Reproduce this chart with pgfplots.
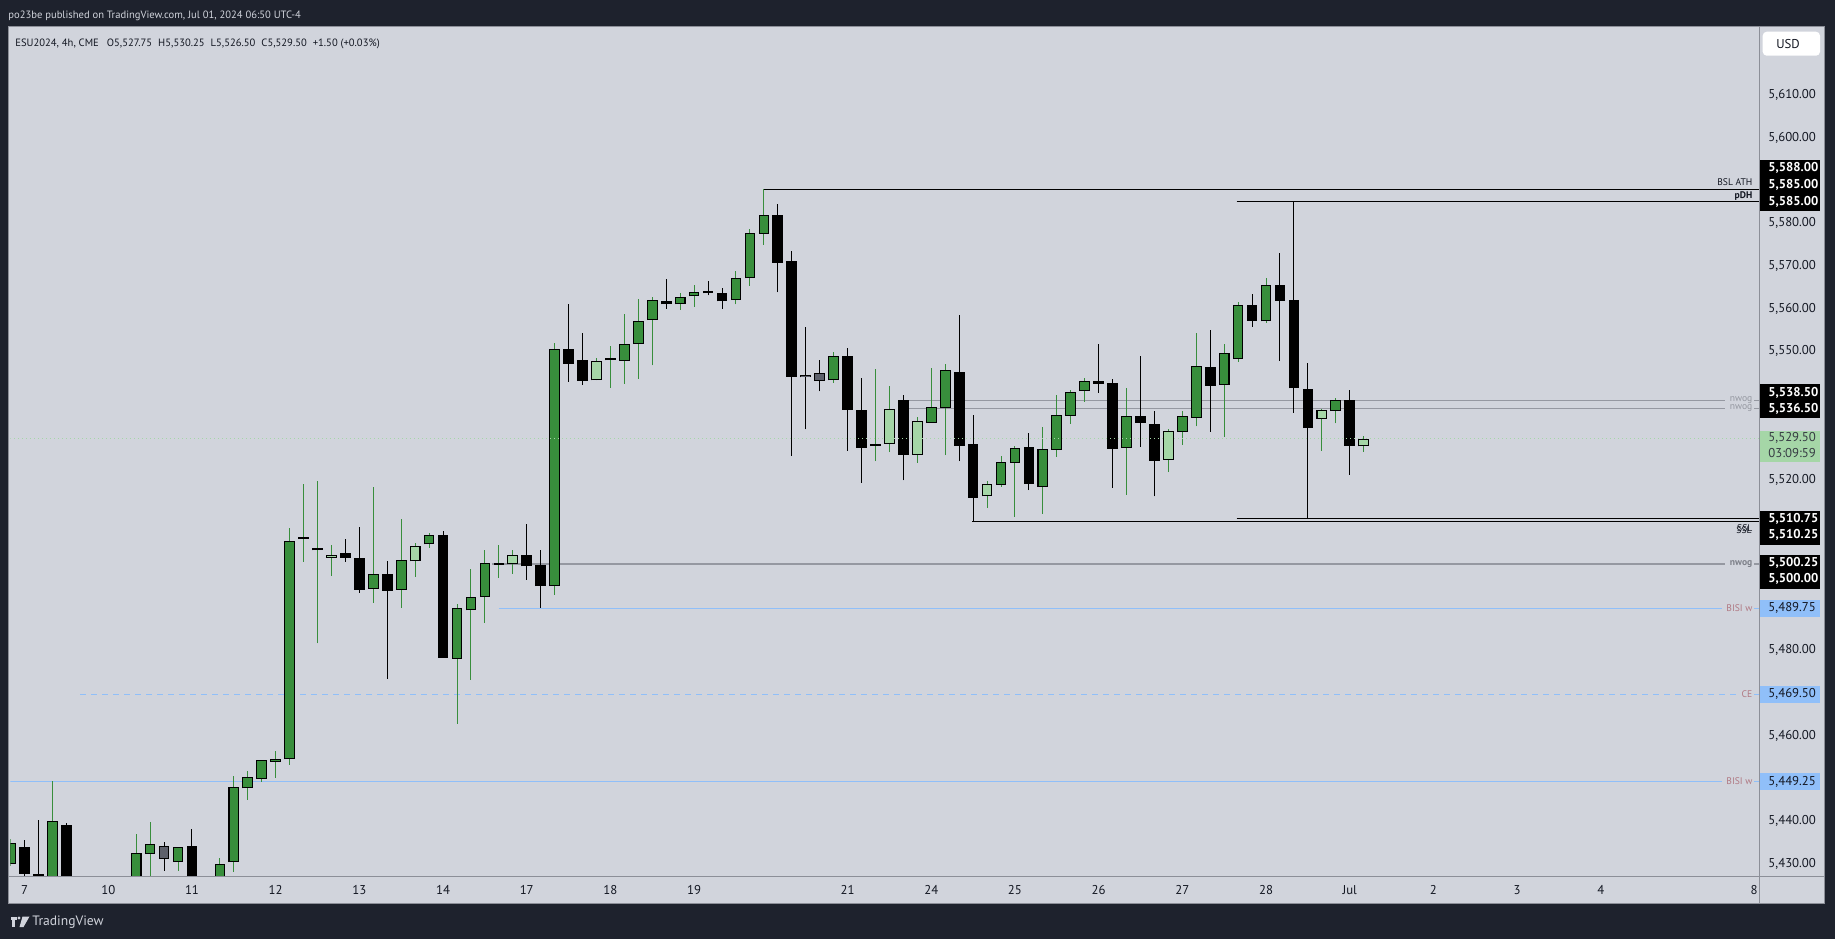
\documentclass[border=0pt]{standalone}
\usepackage{fontspec}
\setmainfont{PT Sans}
\usepackage{pgfplots}
\usepackage{pgfplotstable}
\pgfplotsset{compat=1.18}

\definecolor{bgdark}{HTML}{1E222D}
\definecolor{panel}{HTML}{D1D4DC}
\definecolor{sepc}{HTML}{8C8F98}
\definecolor{ink}{HTML}{131722}
\definecolor{upc}{HTML}{388E3C}
\definecolor{uplt}{HTML}{A5D6A7}
\definecolor{dngray}{HTML}{5D606B}
\definecolor{lvlblue}{HTML}{90BFF9}
\definecolor{lvlgray}{HTML}{9598A1}
\definecolor{nwogdark}{HTML}{7E818A}
\definecolor{rose}{HTML}{B07882}

% 4h candles, x = bar index, columns: open high low close
\pgfplotstableread{
n o h l c
0 5430.0 5435.7 5429.5 5434.7
3 5424.0 5449.3 5423.0 5439.9
9 5424.0 5436.9 5423.0 5432.4
10 5432.2 5439.7 5426.0 5434.5
12 5430.3 5433.8 5428.3 5433.8
15 5425.0 5431.4 5424.0 5430.0
16 5430.3 5450.5 5428.1 5447.9
17 5447.6 5451.7 5444.9 5450.2
18 5449.9 5454.2 5449.2 5454.2
19 5453.9 5456.4 5450.1 5454.4
20 5454.4 5508.6 5453.2 5505.5
26 5494.4 5518.2 5491.1 5497.8
28 5494.2 5510.7 5489.9 5501.0
30 5504.8 5507.5 5504.0 5506.9
32 5478.0 5490.8 5462.8 5489.8
33 5489.3 5499.0 5473.1 5492.4
34 5492.4 5503.5 5486.4 5500.3
39 5495.0 5552.0 5493.0 5550.5
44 5547.8 5558.8 5542.4 5551.7
45 5551.7 5562.3 5543.6 5557.1
46 5557.3 5562.8 5546.7 5562.0
48 5561.0 5563.7 5559.8 5562.7
49 5562.9 5565.6 5560.5 5563.8
52 5562.0 5568.9 5561.0 5567.1
53 5567.1 5578.6 5565.4 5577.7
54 5577.5 5588.0 5575.0 5581.9
59 5543.2 5549.9 5542.7 5548.9
62 5527.8 5545.9 5524.3 5528.2
66 5533.3 5546.1 5533.3 5536.9
67 5536.7 5547.1 5525.7 5545.6
71 5518.8 5525.5 5518.3 5524.1
72 5523.9 5527.8 5511.2 5527.4
74 5518.3 5532.3 5511.9 5527.1
75 5527.0 5539.8 5525.3 5535.0
76 5534.9 5541.0 5533.0 5540.4
77 5540.7 5543.8 5538.2 5543.0
80 5527.3 5541.4 5516.4 5534.8
84 5531.2 5536.0 5528.1 5534.8
85 5534.5 5554.3 5532.4 5546.5
87 5542.2 5551.7 5530.0 5549.6
88 5548.2 5561.5 5547.6 5560.8
90 5557.0 5567.2 5556.7 5565.5
95 5536.0 5539.1 5533.1 5538.5
}\tGreen

\pgfplotstableread{
n o h l c
23 5501.7 5504.6 5497.4 5502.4
29 5500.8 5505.1 5497.2 5504.5
36 5500.1 5503.5 5497.9 5502.2
42 5543.2 5548.5 5543.2 5547.7
63 5528.4 5541.9 5526.4 5536.4
65 5525.8 5534.6 5523.9 5533.6
70 5516.0 5519.6 5513.3 5518.9
83 5524.6 5531.8 5521.7 5531.3
94 5534.2 5536.5 5526.7 5536.2
97 5527.75 5530.25 5526.5 5529.5
}\tLight

\pgfplotstableread{
n o h l c
1 5433.8 5435.5 5426.5 5427.6
2 5427.6 5440.2 5424.0 5426.8
4 5439.0 5439.4 5423.0 5424.0
13 5434.1 5438.1 5424.0 5424.0
24 5502.7 5506.0 5500.7 5501.7
25 5501.5 5508.9 5493.5 5494.2
27 5497.8 5500.8 5473.3 5493.9
31 5506.9 5507.9 5478.2 5478.2
37 5502.2 5509.6 5496.5 5499.6
38 5499.9 5503.5 5489.9 5495.0
40 5550.5 5561.1 5542.9 5547.1
41 5547.9 5554.3 5542.2 5543.1
47 5561.8 5567.0 5560.0 5561.0
50 5564.1 5566.5 5563.1 5563.6
51 5563.6 5564.9 5560.0 5561.7
55 5581.9 5584.6 5563.8 5570.8
56 5571.2 5573.5 5525.6 5544.1
60 5548.9 5550.8 5526.7 5536.3
61 5536.3 5543.8 5519.2 5527.4
64 5538.6 5539.8 5519.8 5525.8
68 5545.1 5558.5 5524.3 5527.9
69 5528.3 5535.1 5510.25 5515.7
73 5527.7 5530.9 5517.5 5519.0
78 5543.1 5551.7 5540.3 5542.4
79 5542.6 5543.5 5518.0 5527.2
81 5534.8 5548.9 5527.6 5533.3
82 5533.0 5536.0 5516.0 5524.4
86 5546.3 5555.0 5531.2 5542.0
89 5560.8 5563.5 5555.8 5557.2
91 5565.5 5573.1 5547.8 5561.9
92 5562.0 5585.0 5535.6 5541.3
93 5541.1 5547.3 5510.75 5532.1
96 5538.5 5541.0 5521.1 5527.9
}\tBlack

\pgfplotstableread{
n o h l c
11 5434.1 5435.0 5428.3 5431.0
57 5544.4 5555.7 5531.7 5543.9
58 5544.9 5548.0 5540.6 5543.0
}\tGray

% flat bars with a green wick
\pgfplotstableread{
n o h l c
21 5506.2 5518.9 5500.7 5506.0
22 5503.6 5519.6 5481.6 5503.4
35 5500.2 5504.6 5497.0 5500.0
43 5548.1 5551.3 5541.5 5547.9
}\tFlat

\pgfplotsset{
  wick/.style={draw=none, mark=none, forget plot,
    error bars/.cd, y dir=plus, y explicit, error mark=none,
    error bar style={line width=0.5pt, draw=#1}},
  bodyout/.style={draw=none, mark=none, forget plot,
    error bars/.cd, y dir=plus, y explicit, error mark=none,
    error bar style={line width=5.35pt, draw=black}},
  bodyin/.style={draw=none, mark=none, forget plot,
    error bars/.cd, y dir=plus, y explicit, error mark=none,
    error bar style={line width=4.3pt, draw=#1}},
  lvl/.style={line width=0.5pt, mark=none, forget plot},
}
\newcommand{\candles}[3]{%
  \addplot[wick=#2] table[x=n, y=l, y error plus expr=\thisrow{h}-\thisrow{l}] {#1};
  \addplot[bodyout] table[x=n, y expr={min(\thisrow{o},\thisrow{c})},
    y error plus expr={max(abs(\thisrow{o}-\thisrow{c}),0.45)}] {#1};
  \ifx#3\relax\else
  \addplot[bodyin=#3] table[x=n, y expr={min(\thisrow{o},\thisrow{c})+0.234},
    y error plus expr={max(abs(\thisrow{o}-\thisrow{c})-0.468,0)}] {#1};
  \fi
}

\begin{document}
\begin{tikzpicture}
\begin{scope}[x=0.5pt, y=-0.5pt]
  \fill[bgdark] (0,0) rectangle (1835,939);
  \fill[panel] (8.5,26.5) rectangle (1824.5,903.5);
  \draw[sepc, line width=0.5pt] (8.5,26.5) rectangle (1824.5,903.5);
  \node[anchor=west, inner sep=0pt, text=panel, font=\fontsize{5.3}{6}\selectfont] at (8,15.5)
    {po23be published on TradingView.com, Jul 01, 2024 06:50 UTC-4};
\end{scope}

\begin{axis}[
  at={(5.15pt,-438.15pt)}, anchor=south west,
  scale only axis, width=874.6pt, height=424.65pt,
  xmin=-0.025, xmax=125.38, ymin=5427.0, ymax=5626.0,
  axis line style={draw=none}, tick style={draw=none},
  xtick={1,7,13,19,25,31,37,43,49,60,66,72,78,84,90,96,102,108,114,125},
  xticklabels={7,10,11,12,13,14,17,18,19,21,24,25,26,27,28,Jul,2,3,4,8},
  ytick={5430,5440,5460,5480,5520,5550,5560,5570,5580,5600,5610},
  yticklabel pos=right,
  scaled y ticks=false,
  every tick label/.append style={font=\fontsize{6.4}{7}\selectfont, text=ink, inner sep=0pt},
  xticklabel style={anchor=center, yshift=-6.85pt},
  yticklabel style={anchor=west, xshift=4.25pt,
    /pgf/number format/.cd, fixed, fixed zerofill, precision=2, 1000 sep={,}, assume math mode=true},
]
  % level lines
  \addplot[lvl, black] coordinates {(53.96,5588) (125.38,5588)};
  \addplot[lvl, black] coordinates {(87.9,5585) (125.38,5585)};
  \addplot[lvl, black] coordinates {(68.95,5510.25) (125.38,5510.25)};
  \addplot[lvl, black] coordinates {(87.9,5510.75) (125.38,5510.75)};
  \addplot[lvl, lvlgray] coordinates {(64,5538.5) (122.91,5538.5)};
  \addplot[lvl, lvlgray] coordinates {(124.99,5538.5) (125.38,5538.5)};
  \addplot[lvl, lvlgray] coordinates {(64,5536.5) (122.91,5536.5)};
  \addplot[lvl, lvlgray] coordinates {(124.99,5536.5) (125.38,5536.5)};
  \addplot[lvl, lvlgray, line width=0.9pt] coordinates {(34.5,5500.12) (122.91,5500.12)};
  \addplot[lvl, lvlgray, line width=0.9pt] coordinates {(124.99,5500.12) (125.38,5500.12)};
  \addplot[lvl, lvlblue] coordinates {(35,5489.75) (122.67,5489.75)};
  \addplot[lvl, lvlblue] coordinates {(124.99,5489.75) (125.38,5489.75)};
  \addplot[lvl, lvlblue, dash pattern=on 3pt off 2.5pt] coordinates {(5,5469.5) (123.75,5469.5)};
  \addplot[lvl, lvlblue] coordinates {(124.99,5469.5) (125.38,5469.5)};
  \addplot[lvl, lvlblue] coordinates {(-0.03,5449.25) (122.67,5449.25)};
  \addplot[lvl, lvlblue] coordinates {(124.99,5449.25) (125.38,5449.25)};

  % candles
  \candles{\tGreen}{upc}{upc}
  \candles{\tLight}{upc}{uplt}
  \candles{\tGray}{black}{dngray}
  \candles{\tBlack}{black}{\relax}
  \candles{\tFlat}{upc}{\relax}

  % last price
  \addplot[lvl, uplt, dash pattern=on 0.5pt off 1.5pt] coordinates {(-0.03,5529.5) (125.38,5529.5)};
\end{axis}

\begin{scope}[x=0.5pt, y=-0.5pt,
  lab/.style={anchor=east, inner sep=0pt, font=\fontsize{4.8}{5}\selectfont},
  boxt/.style={anchor=west, inner sep=0pt, font=\fontsize{6.4}{7}\selectfont\bfseries, text=white},
  boxd/.style={anchor=west, inner sep=0pt, font=\fontsize{6.4}{7}\selectfont, text=ink}]
  \draw[sepc, line width=0.5pt] (1759.5,26.5) -- (1759.5,903.5);
  \draw[sepc, line width=0.5pt] (8.5,876.3) -- (1824.5,876.3);

  \node[anchor=west, inner sep=0pt, text=ink, font=\fontsize{5.3}{6}\selectfont] at (15,43.5)
    {ESU2024, 4h, CME\hspace{4pt}O5,527.75\hspace{3pt}H5,530.25\hspace{3pt}L5,526.50\hspace{3pt}C5,529.50\hspace{3pt}+1.50 (+0.03\%)};

  % labels on the level lines
  \node[lab, text=ink] at (1752.7,182.3) {BSL ATH};
  \node[lab, text=ink, font=\fontsize{4.8}{5}\selectfont\bfseries] at (1752.7,195.7) {pDH};
  \node[lab, text=lvlgray] at (1752.7,400.3) {nwog};
  \node[lab, text=lvlgray] at (1752.7,408.0) {nwog};
  \node[lab, text=ink] at (1752.7,528.3) {SSL};
  \node[lab, text=ink] at (1752.0,530.6) {SSL};
  \node[lab, text=nwogdark, font=\fontsize{4.8}{5}\selectfont\bfseries] at (1752.7,564.3) {nwog};
  \node[lab, text=rose] at (1752.7,608.3) {BISI w};
  \node[lab, text=rose] at (1752.7,694.3) {CE};
  \node[lab, text=rose] at (1752.7,781.3) {BISI w};

  % price scale badges
  \fill[white, rounded corners=2pt] (1762.7,31.7) rectangle (1820,55.7);
  \node[boxd, anchor=center] at (1788,44) {USD};
  \fill[black] (1760,160) rectangle (1820,210.7);
  \node[boxt] at (1768,167.7) {5,588.00};
  \node[boxt] at (1768,184.7) {5,585.00};
  \node[boxt] at (1768,202.0) {5,585.00};
  \fill[black] (1760,384.3) rectangle (1820,417.7);
  \node[boxt] at (1768,392.7) {5,538.50};
  \node[boxt] at (1768,409.3) {5,536.50};
  \fill[uplt] (1760,431) rectangle (1820,461.7);
  \node[boxd, text=ink!85] at (1768,438.3) {5,529.50};
  \node[boxd, text=ink!85] at (1768,453.3) {03:09:59};
  \fill[black] (1760,511) rectangle (1820,544.7);
  \node[boxt] at (1768,518.7) {5,510.75};
  \node[boxt] at (1768,535.3) {5,510.25};
  \fill[black] (1760,555.3) rectangle (1820,588.7);
  \node[boxt] at (1768,562.7) {5,500.25};
  \node[boxt] at (1768,579.3) {5,500.00};
  \fill[lvlblue] (1760,600) rectangle (1820,616.7);
  \node[boxd] at (1768,608.3) {5,489.75};
  \fill[lvlblue] (1760,686) rectangle (1820,702.7);
  \node[boxd] at (1768,694.3) {5,469.50};
  \fill[lvlblue] (1760,773.3) rectangle (1820,790);
  \node[boxd] at (1768,781.7) {5,449.25};

  % footer logo
  \fill[panel] (10.5,916.5) rectangle (17,919.5);
  \fill[panel] (12.3,916.5) rectangle (15.2,927);
  \fill[panel] (19,918) circle (1.6);
  \fill[panel] (22.5,916.5) -- (29.5,916.5) -- (23.5,927) -- (19.5,927) -- cycle;
  \node[anchor=west, inner sep=0pt, text=panel, font=\fontsize{6.8}{8}\selectfont] at (32,921.7) {TradingView};

  \pgfresetboundingbox
  \useasboundingbox (0,0) rectangle (1835,939);
\end{scope}
\end{tikzpicture}
\end{document}
